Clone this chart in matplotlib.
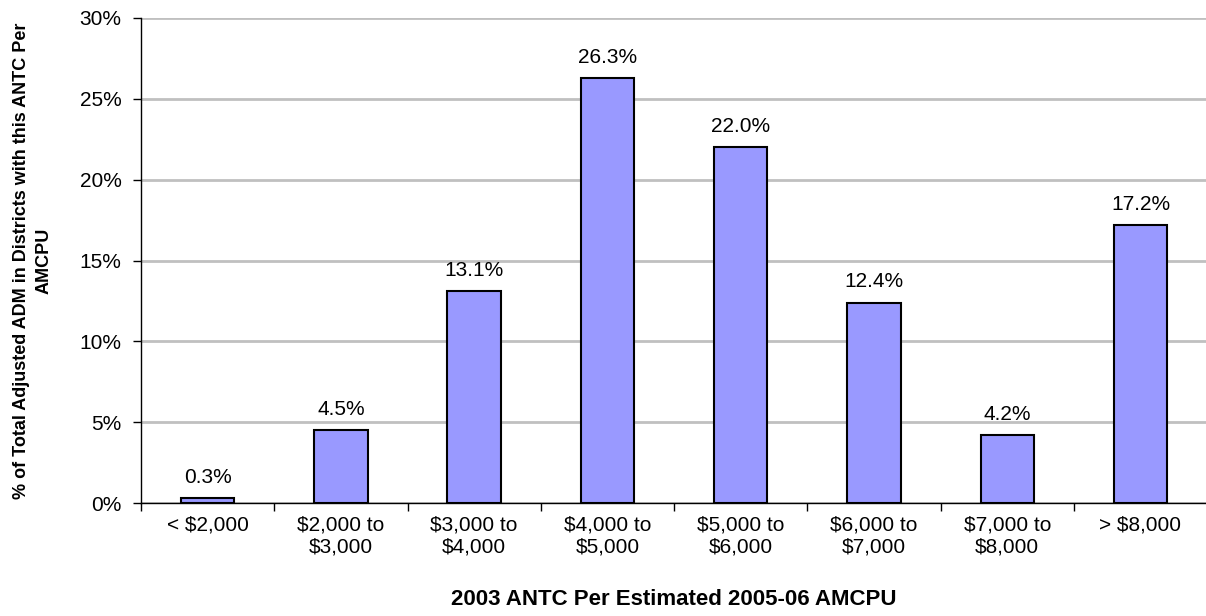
import matplotlib.pyplot as plt
from matplotlib.ticker import FixedLocator, FuncFormatter
import numpy as np

plt.rcParams['font.family'] = ['Liberation Sans', 'DejaVu Sans']

categories = ['< $2,000', '$2,000 to\n$3,000', '$3,000 to\n$4,000', '$4,000 to\n$5,000',
              '$5,000 to\n$6,000', '$6,000 to\n$7,000', '$7,000 to\n$8,000', '> $8,000']
values = [0.3, 4.5, 13.1, 26.3, 22.0, 12.4, 4.2, 17.2]
labels = ['0.3%', '4.5%', '13.1%', '26.3%', '22.0%', '12.4%', '4.2%', '17.2%']

fig = plt.figure(figsize=(12.06, 6.16), dpi=100)
ax = fig.add_axes([0.1169, 0.1834, 0.884, 0.7874])

x = np.arange(len(categories))
ax.bar(x, values, width=0.4, color='#9999FF', edgecolor='black', linewidth=1.5, zorder=3)

# value labels above bars
for xi, v, lab in zip(x, values, labels):
    ax.annotate(lab, (xi, v), xytext=(0, 8), textcoords='offset points',
                ha='center', va='bottom', fontsize=15)

ax.set_xlim(-0.5, len(categories) - 0.5)
ax.set_ylim(0, 30)
ax.set_yticks(range(0, 31, 5))
ax.yaxis.set_major_formatter(FuncFormatter(lambda v, p: f'{int(v)}%'))
ax.yaxis.grid(True, color='#C0C0C0', linewidth=2, zorder=0)
ax.set_axisbelow(True)

ax.set_xticks(x)
ax.set_xticklabels(categories, fontsize=15)
ax.tick_params(axis='x', which='major', length=0, pad=9)
ax.xaxis.set_minor_locator(FixedLocator(np.arange(-0.5, len(categories), 1)))
ax.tick_params(axis='x', which='minor', length=6, width=1, direction='out')
ax.tick_params(axis='y', length=6, width=1, direction='out', labelsize=15, pad=8)

for s in ['top', 'right']:
    ax.spines[s].set_visible(False)
ax.spines['left'].set_linewidth(1)
ax.spines['bottom'].set_linewidth(1)

ax.set_xlabel('2003 ANTC Per Estimated 2005-06 AMCPU', fontsize=16, fontweight='bold')
ax.xaxis.set_label_coords(0.5, -0.178)
ax.set_ylabel('% of Total Adjusted ADM in Districts with this ANTC Per\nAMCPU', fontsize=13,
              fontweight='bold', linespacing=1.45)
ax.yaxis.set_label_coords(-0.083, 0.5)

fig.savefig('out.png', dpi=100)
